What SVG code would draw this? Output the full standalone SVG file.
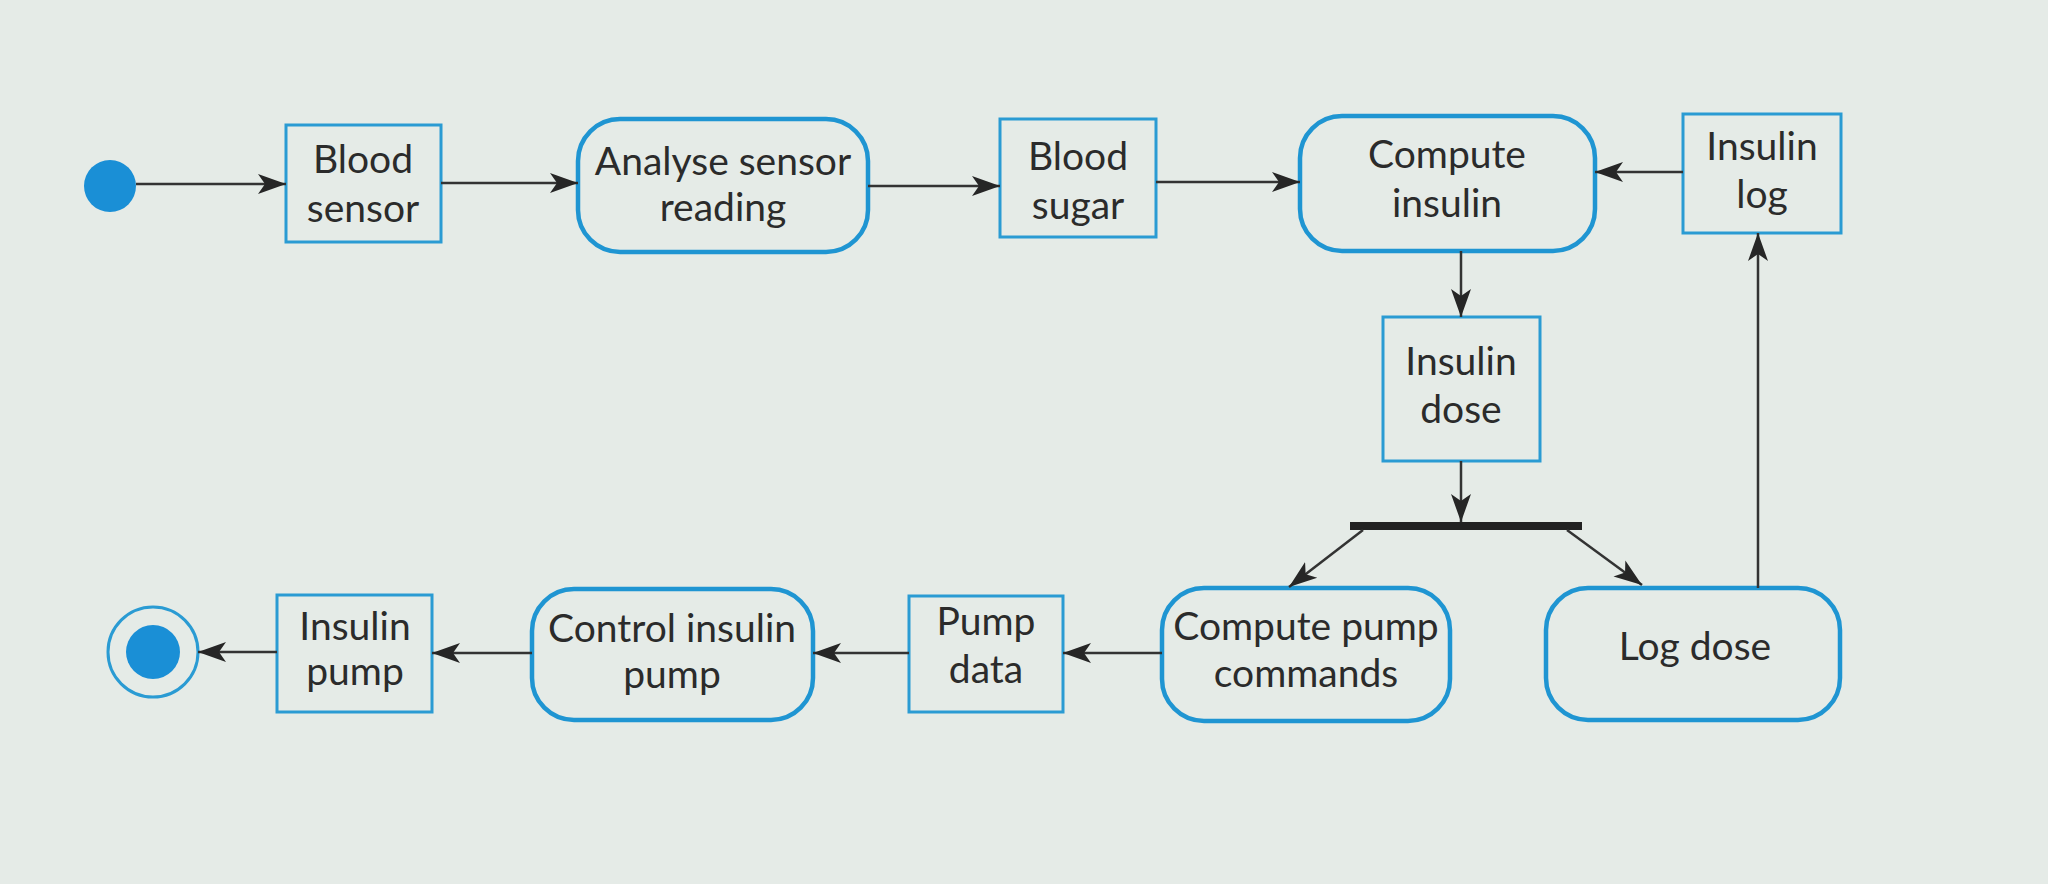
<svg xmlns="http://www.w3.org/2000/svg" width="2048" height="884" viewBox="0 0 2048 884">
<defs>
<marker id="ah" markerUnits="userSpaceOnUse" markerWidth="30" markerHeight="22" refX="28" refY="11" orient="auto">
<path d="M0,1 L28,11 L0,21 L7,11 Z" fill="#262626"/>
</marker>
<style>
.obj{fill:none;stroke:#2a9bd3;stroke-width:3}
.act{fill:none;stroke:#1f95d2;stroke-width:4.5}
.t{font-family:Lato,"Open Sans","Liberation Sans",sans-serif;font-size:39px;fill:#2b2b2b;text-anchor:middle}
.c{stroke:#333;stroke-width:2.5;fill:none;marker-end:url(#ah)}
</style>
</defs>
<rect x="0" y="0" width="2048" height="884" fill="#e5ebe7"/>
<g id="start"><circle cx="110" cy="186" r="26" fill="#1a8fd6"/></g>
<g id="blood-sensor"><rect class="obj" x="286" y="125" width="155" height="117"/><text class="t" x="363" y="173">Blood</text><text class="t" x="363" y="222">sensor</text></g>
<g id="analyse"><rect class="act" x="578" y="119" width="290" height="133" rx="42"/><text class="t" x="723" y="175">Analyse sensor</text><text class="t" x="723" y="221">reading</text></g>
<g id="blood-sugar"><rect class="obj" x="1000" y="119" width="156" height="118"/><text class="t" x="1078" y="170">Blood</text><text class="t" x="1078" y="219">sugar</text></g>
<g id="compute-insulin"><rect class="act" x="1300" y="116" width="295" height="135" rx="42"/><text class="t" x="1447" y="168">Compute</text><text class="t" x="1447" y="217">insulin</text></g>
<g id="insulin-log"><rect class="obj" x="1683" y="114" width="158" height="119"/><text class="t" x="1762" y="160">Insulin</text><text class="t" x="1762" y="208">log</text></g>
<g id="insulin-dose"><rect class="obj" x="1383" y="317" width="157" height="144"/><text class="t" x="1461" y="375">Insulin</text><text class="t" x="1461" y="423">dose</text></g>
<g id="fork"><rect x="1350" y="522" width="232" height="8" fill="#222"/></g>
<g id="compute-pump"><rect class="act" x="1162" y="588" width="288" height="133" rx="42"/><text class="t" x="1306" y="640">Compute pump</text><text class="t" x="1306" y="687">commands</text></g>
<g id="log-dose"><rect class="act" x="1546" y="588" width="294" height="132" rx="42"/><text class="t" x="1695" y="660">Log dose</text></g>
<g id="pump-data"><rect class="obj" x="909" y="596" width="154" height="116"/><text class="t" x="986" y="635">Pump</text><text class="t" x="986" y="683">data</text></g>
<g id="control-pump"><rect class="act" x="532" y="589" width="281" height="131" rx="42"/><text class="t" x="672" y="642">Control insulin</text><text class="t" x="672" y="688">pump</text></g>
<g id="insulin-pump"><rect class="obj" x="277" y="595" width="155" height="117"/><text class="t" x="355" y="640">Insulin</text><text class="t" x="355" y="685">pump</text></g>
<g id="end"><circle cx="153" cy="652" r="45" fill="none" stroke="#2a9bd3" stroke-width="3"/><circle cx="153" cy="652" r="27" fill="#1a8fd6"/></g>
<g id="connectors">
<line class="c" x1="136" y1="184" x2="286" y2="184"/>
<line class="c" x1="441" y1="183" x2="578" y2="183"/>
<line class="c" x1="868" y1="186" x2="1000" y2="186"/>
<line class="c" x1="1156" y1="182" x2="1300" y2="182"/>
<line class="c" x1="1683" y1="172" x2="1595" y2="172"/>
<line class="c" x1="1461" y1="251" x2="1461" y2="317"/>
<line class="c" x1="1461" y1="461" x2="1461" y2="522"/>
<line class="c" x1="1363" y1="530" x2="1289" y2="587"/>
<line class="c" x1="1567" y1="530" x2="1642" y2="585"/>
<line class="c" x1="1758" y1="588" x2="1758" y2="233"/>
<line class="c" x1="1162" y1="653" x2="1063" y2="653"/>
<line class="c" x1="909" y1="653" x2="813" y2="653"/>
<line class="c" x1="532" y1="653" x2="432" y2="653"/>
<line class="c" x1="277" y1="652" x2="198" y2="652"/>
</g>
</svg>
